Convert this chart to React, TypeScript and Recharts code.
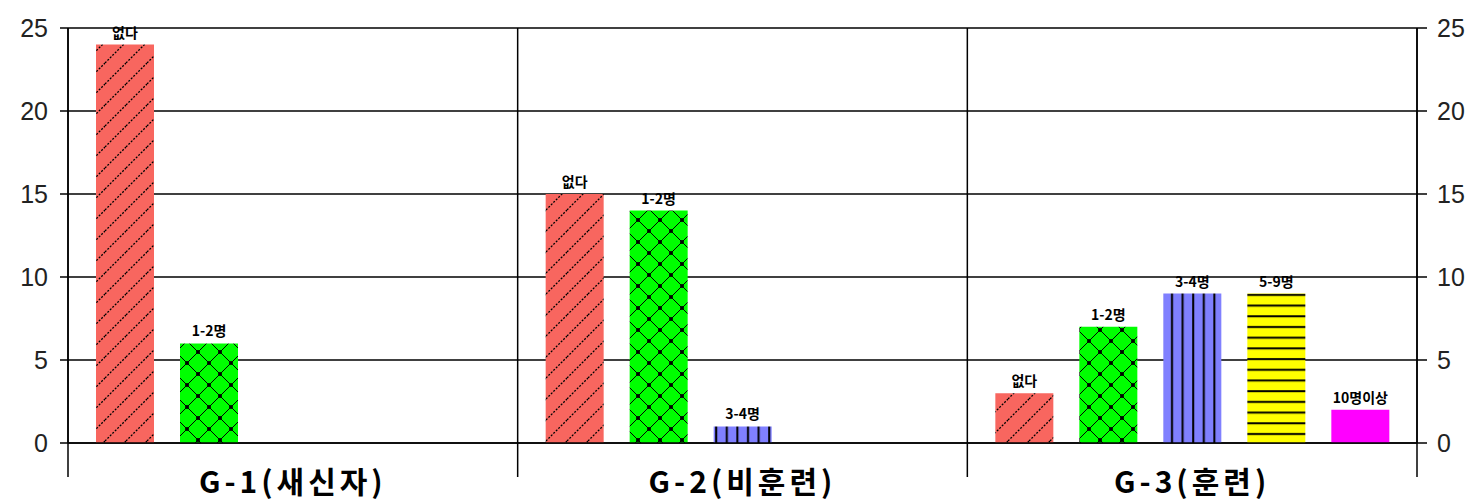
import React from 'react';
import {
  BarChart,
  Bar,
  XAxis,
  YAxis,
  CartesianGrid,
  LabelList,
} from 'recharts';

const categories = ['G-1(새신자)', 'G-2(비훈련)', 'G-3(훈련)'];
const seriesNames = ['없다', '1-2명', '3-4명', '5-9명', '10명이상'];
const noneValues = [24, 15, 3];
const oneTwoValues = [6, 14, 7];
const threeFourValues = [null, 1, 9];
const fiveNineValues = [null, null, 9];
const tenPlusValues = [null, null, 2];
const yTicks = [0, 5, 10, 15, 20, 25];

const seriesValues = [noneValues, oneTwoValues, threeFourValues, fiveNineValues, tenPlusValues];
const seriesKeys = ['s0', 's1', 's2', 's3', 's4'];
const seriesFills = ['url(#diag)', 'url(#cross)', 'url(#vert)', 'url(#horiz)', '#ff00ff'];

const data = categories.map((name, i) => {
  const row: Record<string, any> = { name };
  seriesKeys.forEach((k, s) => {
    row[k] = seriesValues[s][i];
  });
  return row;
});

const W = 1481;
const H = 503;
const MARGIN = { top: 28, right: 4, bottom: 0, left: 8 };
const Y_LEFT_W = 60;
const Y_RIGHT_W = 60;
const X_H = 60;
const PLOT_W = W - MARGIN.left - MARGIN.right - Y_LEFT_W - Y_RIGHT_W;
const PLOT_H = H - MARGIN.top - MARGIN.bottom - X_H;
const BAND = PLOT_W / categories.length;

const korean = '"Noto Sans CJK KR", sans-serif';

function CategoryTick(props: any) {
  const { x, y, payload, index } = props;
  return (
    <g>
      <line x1={x - BAND / 2} x2={x - BAND / 2} y1={y - PLOT_H} y2={y + 34} stroke="#000" strokeWidth={1.5} />
      {index === categories.length - 1 && (
        <line x1={x + BAND / 2} x2={x + BAND / 2} y1={y - PLOT_H} y2={y + 34} stroke="#000" strokeWidth={1.5} />
      )}
      <text
        x={x}
        y={y + 50}
        textAnchor="middle"
        fontFamily={korean}
        fontWeight="bold"
        fontSize={30}
        letterSpacing={4}
        fill="#000"
      >
        {payload.value}
      </text>
    </g>
  );
}

const makeLabel = (name: string) => (props: any) => {
  const { x, y, width, value } = props;
  if (value == null) return null;
  return (
    <text
      x={x + width / 2}
      y={y - 7}
      textAnchor="middle"
      fontFamily={korean}
      fontWeight="bold"
      fontSize={14}
      fill="#000"
    >
      {name}
    </text>
  );
};

const tickStyle = { fontFamily: '"Liberation Sans", Arial, sans-serif', fontSize: 25, fill: '#222' };

export default function App() {
  return (
    <div style={{ position: 'absolute', left: 0, top: 0, width: W, height: H, background: '#fff' }}>
      <BarChart
        width={W}
        height={H}
        data={data}
        margin={MARGIN}
        barSize={58}
        barGap={26}
      >
        <defs>
          <pattern id="diag" patternUnits="userSpaceOnUse" width={21} height={21}>
            <rect width={21} height={21} fill="#f8665f" />
            <path d="M0,21 L21,0 M-5,5 L5,-5 M16,26 L26,16" stroke="#000" strokeWidth={1.3} strokeDasharray="2 1.5" />
          </pattern>
          <pattern id="cross" patternUnits="userSpaceOnUse" width={22} height={22}>
            <rect width={22} height={22} fill="#00ff00" />
            <path d="M0,0 L22,22 M22,0 L0,22" stroke="#000" strokeWidth={1} />
            <circle cx={0} cy={0} r={2} fill="#000" />
            <circle cx={22} cy={0} r={2} fill="#000" />
            <circle cx={0} cy={22} r={2} fill="#000" />
            <circle cx={22} cy={22} r={2} fill="#000" />
            <circle cx={11} cy={11} r={2} fill="#000" />
          </pattern>
          <pattern id="vert" patternUnits="userSpaceOnUse" width={10.6} height={10}>
            <rect width={10.6} height={10} fill="#8080ff" />
            <rect x={5} width={2} height={10} fill="#000" />
          </pattern>
          <pattern id="horiz" patternUnits="userSpaceOnUse" width={10} height={10.7}>
            <rect width={10} height={10.7} fill="#ffff00" />
            <rect y={5} width={10} height={2} fill="#000" />
          </pattern>
        </defs>
        <CartesianGrid vertical={false} stroke="#000" strokeWidth={1.5} yAxisId="left" />
        <XAxis
          dataKey="name"
          height={X_H}
          axisLine={{ stroke: '#000', strokeWidth: 1.5 }}
          tickLine={false}
          tickSize={0}
          tickMargin={0}
          tick={<CategoryTick />}
          interval={0}
        />
        <YAxis
          yAxisId="left"
          width={Y_LEFT_W}
          domain={[0, 25]}
          ticks={yTicks}
          interval={0}
          axisLine={{ stroke: '#000', strokeWidth: 1.5 }}
          tickLine={{ stroke: '#000', strokeWidth: 1.5 }}
          tickSize={8}
          tickMargin={12}
          tick={tickStyle}
        />
        <YAxis
          yAxisId="right"
          orientation="right"
          width={Y_RIGHT_W}
          domain={[0, 25]}
          ticks={yTicks}
          interval={0}
          axisLine={{ stroke: '#000', strokeWidth: 1.5 }}
          tickLine={{ stroke: '#000', strokeWidth: 1.5 }}
          tickSize={10}
          tickMargin={10}
          tick={tickStyle}
        />
        {seriesKeys.map((k, s) => (
          <Bar
            key={k}
            dataKey={k}
            name={seriesNames[s]}
            yAxisId={s === seriesKeys.length - 1 ? 'right' : 'left'}
            fill={seriesFills[s]}
            isAnimationActive={false}
          >
            <LabelList dataKey={k} content={makeLabel(seriesNames[s])} />
          </Bar>
        ))}
      </BarChart>
    </div>
  );
}
